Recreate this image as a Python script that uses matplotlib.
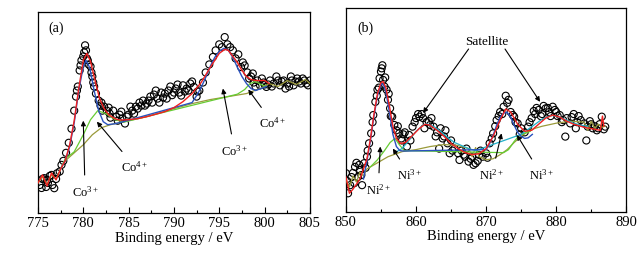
import matplotlib.pyplot as plt
from matplotlib.ticker import MultipleLocator

plt.rcParams.update({
    "font.family": "Liberation Serif",
    "font.size": 10.5,
    "mathtext.fontset": "custom",
    "mathtext.rm": "Liberation Serif",
    "mathtext.it": "Liberation Serif:italic",
})

# ---------------- (a) Co 2p ----------------
co_x = [775.2, 775.5, 775.7, 775.9, 776.1, 776.3, 776.5, 776.8, 777.1, 777.4, 777.8, 778.1,
        778.4, 778.7, 779.0, 779.2, 779.4, 779.6, 779.8, 780.0, 780.2, 780.4, 780.6, 780.8,
        781.0, 781.2, 781.4, 781.7, 782.0, 782.3, 782.6, 782.9, 783.3, 783.6, 784.0, 784.3,
        784.6, 785.0, 785.4, 785.8, 786.2, 786.6, 787.0, 787.4, 787.8, 788.2, 788.6, 789.0,
        789.4, 789.8, 790.2, 790.6, 791.0, 791.4, 791.8, 792.2, 792.5, 792.8, 793.2, 793.5,
        793.9, 794.3, 794.6, 795.0, 795.3, 795.6, 795.9, 796.2, 796.5, 796.8, 797.1, 797.4,
        797.8, 798.1, 798.5, 798.8, 799.2, 799.5, 799.9, 800.2, 800.6, 801.0, 801.3, 801.7,
        802.1, 802.5, 802.9, 803.2, 803.6, 804.0, 804.4, 804.8,
        786.0, 787.2, 788.8, 790.0, 791.2, 786.8, 789.6, 783.0, 781.9, 800.4, 802.3, 803.8,
        775.4, 776.0, 776.6, 777.0, 777.6, 782.1, 782.8, 783.8, 784.2, 784.8, 785.2, 785.6,
        786.4, 787.6, 788.0, 788.4, 789.2, 790.4, 790.8, 791.6, 792.0, 792.6, 797.6, 798.3,
        798.7, 799.0, 799.7, 800.0, 800.8, 801.5, 801.9, 802.7, 803.0, 803.4, 804.2, 804.6,
        805.0, 779.3, 779.7, 780.1, 780.3, 780.5, 781.1, 780.9]
co_y = [14.0, 17.0, 17.4, 13.0, 15.0, 18.5, 19.0, 12.4, 19.8, 20.7, 26.0, 30.0,
        35.0, 42.0, 51.0, 58.0, 63.0, 71.0, 76.0, 78.0, 83.5, 77.0, 74.0, 73.0,
        68.0, 63.0, 59.5, 56.0, 55.0, 53.0, 51.0, 49.6, 51.0, 48.0, 49.0, 47.0,
        44.6, 49.0, 51.0, 53.0, 55.0, 56.0, 54.5, 58.0, 59.0, 57.0, 60.0, 59.5,
        61.0, 58.7, 62.0, 60.0, 63.6, 62.0, 64.5, 62.8, 58.0, 61.0, 65.0, 70.0,
        74.0, 77.7, 81.0, 84.0, 82.6, 87.6, 84.0, 82.6, 81.0, 77.0, 79.0, 72.7,
        73.5, 70.0, 68.0, 65.0, 66.0, 63.6, 65.0, 62.8, 66.0, 64.5, 68.0, 63.6,
        66.0, 64.5, 68.0, 63.6, 67.0, 64.5, 66.0, 63.6,
        52.0, 56.0, 57.5, 60.0, 60.5, 53.5, 63.0, 47.5, 53.5, 64.0, 62.0, 65.5,
        12.5, 16.5, 14.0, 17.0, 24.0, 51.0, 52.5, 46.0, 50.5, 48.0, 53.0, 49.5,
        53.5, 55.0, 61.0, 55.0, 57.0, 64.0, 58.5, 61.0, 65.5, 60.5, 75.0, 67.0,
        69.5, 63.0, 67.0, 64.0, 63.0, 66.0, 65.5, 63.0, 66.0, 65.5, 67.0, 64.5,
        66.0, 61.0, 73.5, 80.0, 81.0, 76.0, 65.0, 70.0]

co_bg_x = [775.0, 775.5, 776.0, 776.5, 777.0, 777.5, 778.0, 779.0, 780.0, 781.0, 782.0,
           783.0, 784.0, 785.0, 787.0, 790.0, 792.0, 794.0, 796.0, 798.0, 799.5, 800.5,
           801.5, 802.5, 803.5, 804.5, 805.0]
co_bg_y = [15.0, 18.0, 14.5, 19.0, 17.0, 22.0, 26.0, 30.0, 34.0, 39.0, 42.5,
           44.0, 45.0, 46.0, 48.0, 52.0, 54.5, 56.5, 58.0, 59.5, 62.0, 64.5,
           63.0, 66.0, 64.0, 66.5, 64.5]

co_green_x = [777.5, 778.0, 779.0, 780.0, 780.8, 781.6, 782.5, 783.5, 784.5,
              797.0, 797.8, 798.4, 799.0, 799.6, 800.2]
co_green_y = [22.0, 27.0, 30.5, 39.0, 46.5, 51.0, 49.5, 46.5, 45.3,
              59.2, 61.5, 64.5, 65.5, 64.0, 63.0]

co_blue_x = [777.5, 778.0, 778.5, 779.0, 779.5, 780.0, 780.3, 780.7, 781.2, 781.7, 782.2,
             782.7, 783.5, 784.0,
             792.0, 792.5, 793.0, 793.5, 794.0, 794.5, 795.0, 795.5, 796.0, 796.5, 797.0,
             797.5, 798.0, 798.5, 799.0, 799.6, 800.2]
co_blue_y = [22.0, 26.0, 33.0, 45.0, 61.0, 73.0, 76.0, 72.5, 61.0, 51.0, 45.5,
             44.0, 44.5, 45.0,
             55.0, 58.5, 62.5, 67.5, 73.0, 77.5, 80.5, 82.0, 81.0, 77.5, 72.5,
             68.0, 64.5, 62.0, 61.0, 62.0, 63.0]

co_red_x = [775.0, 775.5, 776.0, 776.5, 777.0, 777.5, 778.0, 778.5, 779.0, 779.5, 780.0,
            780.4, 780.8, 781.3, 781.8, 782.3, 782.8, 783.5, 784.0, 785.0, 786.0, 787.0,
            788.0, 789.0, 790.0, 791.0, 792.0, 793.0, 794.0, 795.0, 795.6, 796.0, 797.0,
            797.5, 798.0, 798.5, 799.0, 800.0, 800.5]
co_red_y = [15.0, 19.0, 13.5, 20.0, 16.5, 22.0, 26.0, 34.0, 46.0, 62.0, 76.0,
            79.5, 75.5, 66.0, 57.0, 52.0, 49.0, 47.0, 46.3, 46.5, 47.0, 48.0,
            49.2, 50.5, 52.5, 55.5, 59.5, 65.0, 72.5, 79.5, 81.5, 81.0, 75.0,
            71.0, 68.0, 66.5, 66.0, 66.0, 64.5]

# ---------------- (b) Ni 2p ----------------
ni_x = [850.0, 850.3, 850.6, 851.0, 851.3, 851.7, 852.0, 852.3, 852.6, 853.0, 853.3, 853.6,
        853.9, 854.2, 854.5, 854.8, 855.0, 855.3, 855.5, 855.8, 856.0, 856.3, 856.6, 856.9,
        857.2, 857.6, 858.0, 858.4, 858.7, 859.0, 859.5, 860.0, 860.5, 861.0, 861.5, 862.0,
        862.5, 863.0, 863.5, 864.0, 864.5, 865.0, 865.5, 866.0, 866.5, 867.0, 867.5, 868.0,
        868.5, 869.0, 869.5, 870.0, 870.5, 871.0, 871.5, 872.0, 872.5, 872.8, 873.2, 873.5,
        874.0, 874.5, 875.0, 875.5, 876.0, 876.5, 877.0, 877.5, 878.0, 878.5, 879.0, 879.5,
        880.0, 880.5, 881.0, 881.5, 882.0, 882.5, 883.0, 883.5, 884.0, 884.5, 885.0, 885.5,
        886.0, 886.5, 887.0,
        881.3, 884.3, 866.2, 868.2, 864.8, 863.3, 860.3, 861.8, 855.1, 873.0, 878.8, 880.2,
        857.9, 851.5, 885.8,
        850.2, 850.8, 851.2, 851.9, 852.2, 852.8, 853.1, 853.8, 854.4, 854.7, 855.2, 855.6,
        856.1, 856.4, 857.4, 858.2, 859.2, 859.8, 860.8, 861.2, 862.2, 862.8, 863.8, 864.2,
        865.2, 866.8, 867.2, 867.8, 868.8, 869.2, 870.2, 870.8, 871.3, 871.8, 872.3, 873.8,
        874.2, 874.8, 876.2, 876.8, 877.2, 877.8, 878.2, 879.2, 879.8, 880.8, 882.2, 882.8,
        883.2, 884.8, 885.2, 886.2, 886.8]
ni_y = [18.9, 9.0, 13.0, 19.0, 22.0, 17.0, 20.5, 13.0, 23.8, 27.0, 33.6, 38.5,
        47.5, 54.0, 60.0, 65.6, 68.9, 64.8, 61.5, 60.0, 55.0, 50.8, 46.7, 42.6,
        40.0, 38.5, 35.0, 39.0, 32.0, 37.7, 41.8, 46.0, 46.7, 46.0, 44.0, 42.6,
        41.8, 39.0, 41.0, 37.0, 33.6, 35.0, 31.0, 28.7, 30.0, 27.0, 24.6, 27.0,
        23.8, 27.9, 27.0, 28.7, 33.6, 38.5, 45.0, 49.0, 51.6, 57.0, 55.0, 49.0,
        46.7, 43.4, 41.0, 39.0, 41.8, 46.0, 48.0, 50.0, 48.0, 50.8, 49.0, 51.6,
        49.0, 47.5, 45.0, 46.0, 43.4, 48.0, 44.0, 45.0, 43.4, 41.8, 43.0, 42.0,
        41.0, 46.7, 41.8,
        36.9, 35.0, 25.4, 23.0, 28.7, 31.0, 48.0, 44.5, 70.5, 53.5, 51.0, 47.0,
        36.0, 24.0, 40.0,
        15.0, 17.0, 14.0, 23.0, 18.0, 21.5, 30.0, 44.0, 57.0, 61.0, 72.0, 66.0,
        58.0, 47.0, 42.0, 38.0, 35.0, 44.0, 48.0, 41.0, 46.0, 37.0, 36.0, 40.0,
        30.0, 28.0, 31.0, 26.0, 25.0, 30.0, 26.5, 36.0, 42.0, 47.0, 48.0, 47.5,
        44.0, 38.0, 44.0, 49.5, 51.0, 47.0, 52.0, 47.0, 50.0, 44.0, 46.5, 41.0,
        47.0, 44.5, 41.0, 43.0, 40.5]

ni_bg_x = [850.0, 850.5, 851.0, 851.5, 852.0, 852.5, 853.0, 854.0, 856.0, 858.0, 860.0,
           862.0, 864.0, 866.0, 867.5, 868.0, 868.5, 869.0, 870.0, 871.0, 872.0, 873.0,
           874.0, 875.0, 876.0, 877.0, 878.0, 880.0, 882.0, 884.0, 884.5, 885.0, 885.5,
           886.0, 886.5, 887.0]
ni_bg_y = [15.6, 12.0, 17.5, 14.5, 19.5, 17.5, 21.0, 23.0, 27.0, 29.5, 30.5,
           32.0, 33.0, 32.5, 31.0, 27.0, 31.5, 27.0, 25.5, 26.0, 28.0, 30.5,
           34.0, 37.0, 39.5, 41.0, 42.0, 43.5, 44.5, 44.0, 40.0, 44.5, 41.0,
           43.0, 41.5, 42.0]

ni_green_x = [853.5, 854.5, 855.5, 856.3, 857.0, 857.6, 858.3,
              872.5, 873.2, 874.0, 874.8, 875.5, 876.3]
ni_green_y = [22.0, 25.5, 30.0, 34.0, 36.0, 33.0, 30.0,
              29.0, 30.5, 34.5, 37.7, 38.5, 39.5]

ni_cyan_x = [857.0, 858.0, 859.0, 860.0, 861.0, 861.5, 862.5, 863.5, 864.5, 865.5, 866.5,
             867.5, 868.5,
             875.0, 876.0, 877.0, 878.0, 879.0, 879.5, 880.5, 881.5, 882.5, 883.5, 884.5]
ni_cyan_y = [29.0, 31.0, 35.0, 39.5, 42.5, 43.2, 42.0, 39.5, 36.5, 34.0, 32.5,
             31.0, 30.0,
             38.0, 40.5, 43.0, 45.5, 47.0, 47.3, 46.5, 45.0, 43.5, 42.5, 42.0]

ni_blue_x = [852.5, 853.0, 853.5, 854.0, 854.5, 855.0, 855.3, 855.7, 856.2, 856.7, 857.2,
             857.7, 858.2,
             870.0, 870.5, 871.0, 871.5, 872.0, 872.5, 873.0, 873.5, 874.0, 874.5, 875.0,
             875.5, 876.0, 876.6]
ni_blue_y = [16.0, 25.0, 35.0, 47.0, 57.0, 62.5, 63.0, 59.0, 49.0, 38.0, 32.0,
             30.0, 29.8,
             30.5, 33.5, 37.5, 42.5, 46.5, 48.5, 48.8, 46.5, 42.5, 39.0, 37.0,
             36.0, 36.3, 38.0]

ni_red_x = [850.0, 850.5, 851.0, 852.0, 853.0, 853.5, 854.0, 854.5, 855.0, 855.3, 855.7,
            856.2, 856.7, 857.2, 857.8, 858.5, 859.5, 860.5, 861.3, 862.0, 863.0, 864.0,
            865.0, 866.0, 867.0, 868.0, 869.0, 870.0, 871.0, 872.0, 872.8, 873.5, 874.5,
            875.5, 876.5, 877.5, 878.5, 879.5, 880.5, 881.5, 882.5, 884.0, 885.5, 886.3,
            886.6, 886.8]
ni_red_y = [17.0, 9.0, 11.0, 16.0, 26.0, 36.0, 48.0, 58.0, 63.5, 64.0, 61.0,
            52.0, 42.0, 36.0, 33.5, 34.0, 37.5, 41.0, 43.0, 42.5, 40.0, 37.0,
            33.5, 31.0, 29.0, 28.0, 28.5, 31.0, 37.0, 45.0, 50.5, 49.0, 43.0,
            39.5, 40.0, 43.0, 46.0, 47.5, 46.5, 44.5, 43.0, 41.5, 40.5, 40.0,
            47.0, 42.0]

c_red = "#f02020"
c_blue = "#2a52be"
c_green = "#66cc33"
c_olive = "#9a9a3a"
c_cyan = "#22b0c8"

fig = plt.figure(figsize=(6.43, 2.54), dpi=100)
ax1 = fig.add_axes([0.059, 0.161, 0.423, 0.791])
ax2 = fig.add_axes([0.538, 0.167, 0.436, 0.800])


def style(ax, lo, hi, major, minor):
    ax.set_xlim(lo, hi)
    ax.set_ylim(0, 100)
    ax.xaxis.set_major_locator(MultipleLocator(major))
    ax.xaxis.set_minor_locator(MultipleLocator(minor))
    ax.tick_params(axis="x", which="major", direction="in", length=4, width=0.8, pad=3)
    ax.tick_params(axis="x", which="minor", direction="in", length=2.5, width=0.8)
    ax.set_yticks([])
    ax.set_xlabel("Binding energy / eV", labelpad=1)
    for s in ax.spines.values():
        s.set_linewidth(0.9)


def arrow(ax, text, xy, xytext):
    ax.annotate(text, xy=xy, xytext=xytext, fontsize=9, ha="center", va="center",
                arrowprops=dict(arrowstyle="-|>", color="black", lw=0.8,
                                mutation_scale=7, shrinkA=5, shrinkB=0))


# panel (a)
ax1.scatter(co_x, co_y, s=26, facecolors="none", edgecolors="black", linewidths=0.8, zorder=2)
ax1.plot(co_bg_x, co_bg_y, color=c_olive, lw=0.9, zorder=3)
ax1.plot(co_green_x, co_green_y, color=c_green, lw=0.9, zorder=3)
ax1.plot(co_blue_x, co_blue_y, color=c_blue, lw=1.0, zorder=4)
ax1.plot(co_red_x, co_red_y, color=c_red, lw=1.0, zorder=5)
style(ax1, 775, 805, 5, 2.5)
ax1.text(776.2, 92, "(a)", fontsize=10, va="center")
arrow(ax1, "Co$^{3+}$", (780.0, 46), (780.2, 10.5))
arrow(ax1, "Co$^{4+}$", (781.5, 45.5), (785.7, 23))
arrow(ax1, "Co$^{3+}$", (795.4, 62), (796.7, 31))
arrow(ax1, "Co$^{4+}$", (798.2, 61.5), (800.9, 44.8))

# panel (b)
ax2.scatter(ni_x, ni_y, s=26, facecolors="none", edgecolors="black", linewidths=0.8, zorder=2)
ax2.plot(ni_bg_x, ni_bg_y, color=c_olive, lw=0.9, zorder=3)
ax2.plot(ni_green_x, ni_green_y, color=c_green, lw=0.9, zorder=3)
ax2.plot(ni_cyan_x, ni_cyan_y, color=c_cyan, lw=0.9, zorder=3)
ax2.plot(ni_blue_x, ni_blue_y, color=c_blue, lw=1.0, zorder=4)
ax2.plot(ni_red_x, ni_red_y, color=c_red, lw=1.0, zorder=5)
style(ax2, 850, 890, 10, 5)
ax2.text(851.7, 90, "(b)", fontsize=10, va="center")
ax2.text(870.1, 83.6, "Satellite", fontsize=9.5, ha="center", va="center")
for head in [(861.0, 48.5), (877.7, 54.0)]:
    ax2.annotate("", xy=head, xytext=(867.5 if head[0] < 870 else 872.7, 80),
                 arrowprops=dict(arrowstyle="-|>", color="black", lw=0.8,
                                 mutation_scale=7, shrinkA=0, shrinkB=0))
arrow(ax2, "Ni$^{2+}$", (854.9, 32), (854.6, 10.7))
arrow(ax2, "Ni$^{3+}$", (856.7, 31), (859.1, 18))
arrow(ax2, "Ni$^{2+}$", (872.2, 38.5), (870.8, 18))
arrow(ax2, "Ni$^{3+}$", (874.4, 37.7), (877.9, 18))

fig.savefig("out.png", dpi=100)
